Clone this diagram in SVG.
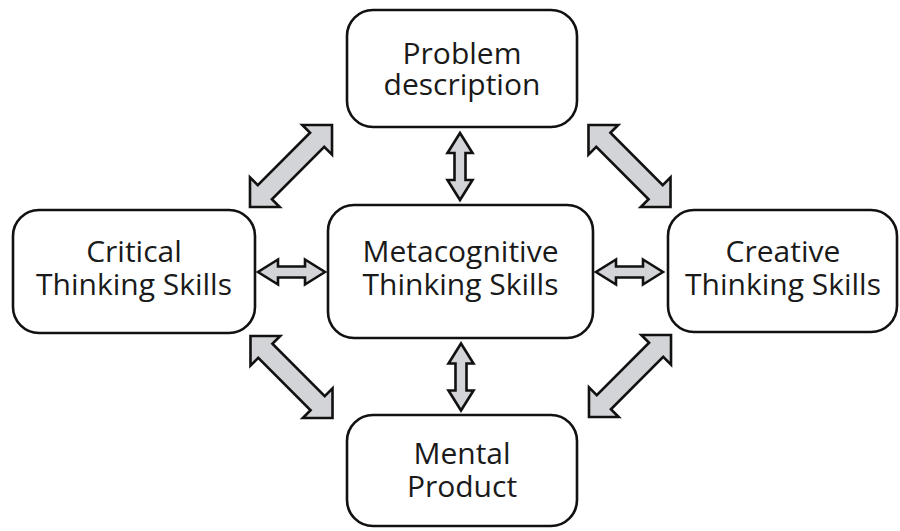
<svg xmlns="http://www.w3.org/2000/svg" width="900" height="531" viewBox="0 0 900 531">
  <style>
    .box { fill: #ffffff; stroke: #111111; stroke-width: 2.6; }
    .lbl { font-family: "Open Sans", "Noto Sans", "Liberation Sans", sans-serif; font-size: 30px; fill: #1a1a1a; text-anchor: middle; }
    .arr { fill: #d2d4d7; stroke: #111111; stroke-width: 2.6; stroke-linejoin: miter; }
  </style>
  <defs>
    <path id="bigArrow" d="M0,-58 L21,-37 L10,-37 L10,37 L21,37 L0,58 L-21,37 L-10,37 L-10,-37 L-21,-37 Z"/>
    <path id="smallArrow" d="M0,-33.5 L12.5,-13.5 L5.5,-13.5 L5.5,13.5 L12.5,13.5 L0,33.5 L-12.5,13.5 L-5.5,13.5 L-5.5,-13.5 L-12.5,-13.5 Z"/>
  </defs>
  <rect width="900" height="531" fill="#ffffff"/>

  <g id="connectors">
    <use href="#bigArrow" class="arr" transform="translate(291,166) rotate(45)"/>
    <use href="#bigArrow" class="arr" transform="translate(629.5,166) rotate(-45)"/>
    <use href="#bigArrow" class="arr" transform="translate(291.5,377) rotate(-45)"/>
    <use href="#bigArrow" class="arr" transform="translate(630,376) rotate(45)"/>
    <use href="#smallArrow" class="arr" transform="translate(460,166.5)"/>
    <use href="#smallArrow" class="arr" transform="translate(461,377)"/>
    <use href="#smallArrow" class="arr" transform="translate(291.5,272) rotate(90)"/>
    <use href="#smallArrow" class="arr" transform="translate(629.5,272) rotate(90)"/>
  </g>

  <g id="node-problem">
    <rect class="box" x="347" y="10" width="230" height="117" rx="26"/>
    <text class="lbl" x="462" y="64">Problem</text>
    <text class="lbl" x="462" y="95">description</text>
  </g>
  <g id="node-critical">
    <rect class="box" x="13" y="210" width="242" height="123" rx="26"/>
    <text class="lbl" x="134" y="262">Critical</text>
    <text class="lbl" x="134" y="295">Thinking Skills</text>
  </g>
  <g id="node-metacognitive">
    <rect class="box" x="328" y="205" width="265" height="133" rx="26"/>
    <text class="lbl" x="460.5" y="262">Metacognitive</text>
    <text class="lbl" x="460.5" y="295">Thinking Skills</text>
  </g>
  <g id="node-creative">
    <rect class="box" x="668" y="210" width="229" height="122" rx="26"/>
    <text class="lbl" x="783" y="262">Creative</text>
    <text class="lbl" x="783" y="295">Thinking Skills</text>
  </g>
  <g id="node-mental">
    <rect class="box" x="347" y="415" width="230" height="111" rx="26"/>
    <text class="lbl" x="462" y="464">Mental</text>
    <text class="lbl" x="462" y="497">Product</text>
  </g>
</svg>
